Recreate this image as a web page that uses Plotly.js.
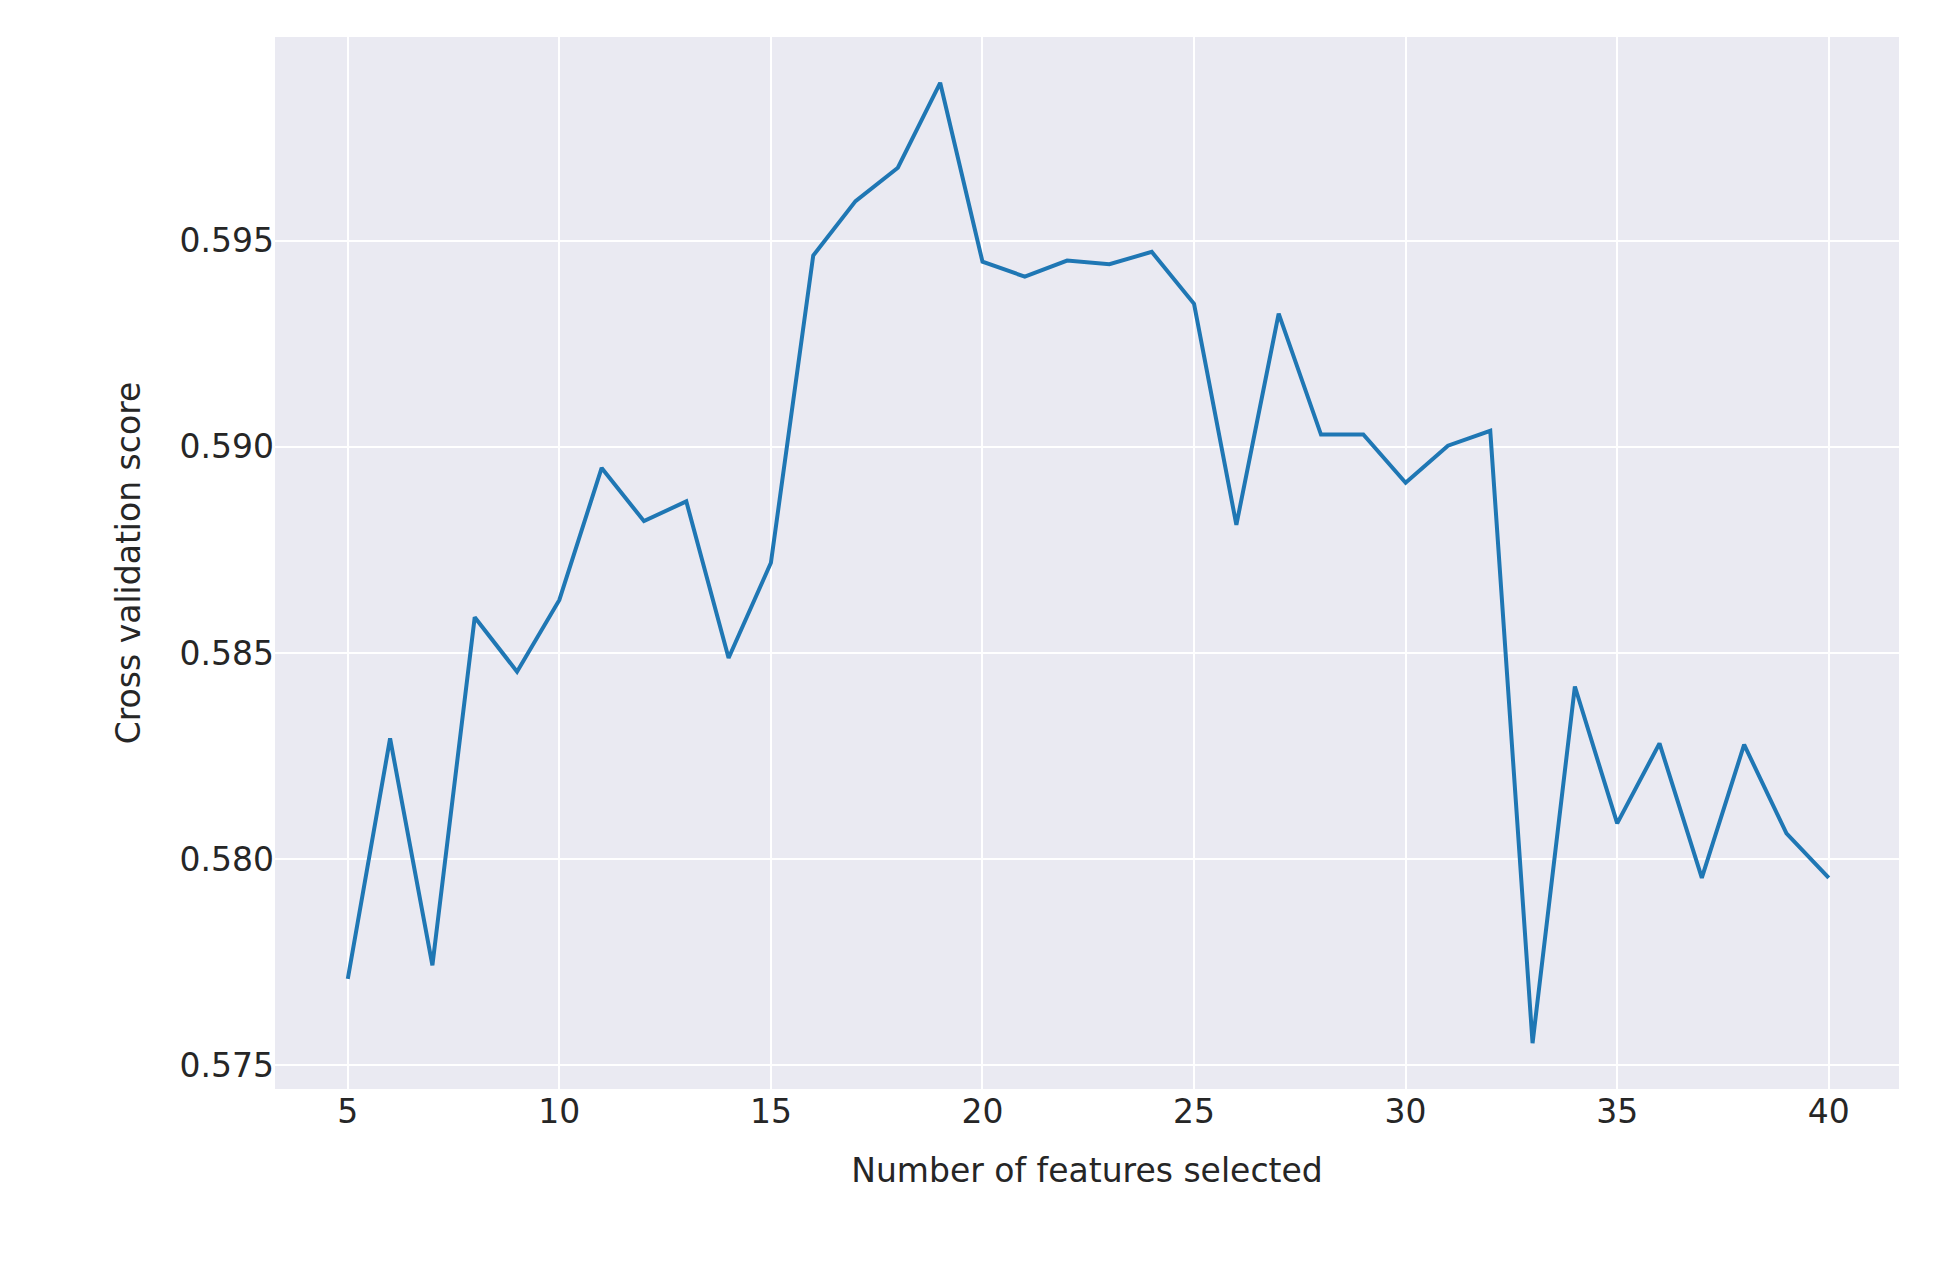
<!DOCTYPE html>
<html>
<head>
<meta charset="utf-8">
<script src="https://cdn.plot.ly/plotly-3.0.1.min.js"></script>
<style>html,body{margin:0;padding:0;background:#fff;}</style>
</head>
<body>
<div id="chart" style="width:1936px;height:1274px;"></div>
<script>
// Cross validation score vs. number of selected features
const nFeatures = [5,6,7,8,9,10,11,12,13,14,15,16,17,18,19,20,21,22,23,24,25,26,27,28,29,30,31,32,33,34,35,36,37,38,39,40];
const cvScores = [
    0.57710, 0.58293, 0.57743, 0.58587, 0.58455, 0.58629, 0.58949, 0.58820, 0.58868, 0.58488,
    0.58719, 0.59464, 0.59596, 0.59677, 0.59883, 0.59449, 0.59413, 0.59452, 0.59443, 0.59473,
    0.59347, 0.58811, 0.59323, 0.59030, 0.59030, 0.58913, 0.59003, 0.59039, 0.57554, 0.58419,
    0.58087, 0.58281, 0.57955, 0.58278, 0.58063, 0.57955
];
const xTicks = [5,10,15,20,25,30,35,40];
const yTicks = [0.575,0.580,0.585,0.590,0.595];

const trace = {
    x: nFeatures,
    y: cvScores,
    mode: 'lines',
    type: 'scatter',
    line: { color: '#1f77b4', width: 4 },
    hoverinfo: 'skip'
};

const axisFont = { family: 'DejaVu Sans', size: 33, color: '#262626' };

const layout = {
    width: 1936,
    height: 1274,
    paper_bgcolor: '#ffffff',
    plot_bgcolor: '#EAEAF2',
    showlegend: false,
    margin: { l: 275, r: 37, t: 37, b: 185 },
    xaxis: {
        range: [3.28, 41.66],
        tickvals: xTicks,
        ticktext: xTicks.map(String),
        gridcolor: '#ffffff',
        gridwidth: 2,
        zeroline: false,
        showline: false,
        ticks: '',
        tickfont: axisFont,
        title: { text: 'Number of features selected', font: axisFont, standoff: 28 }
    },
    yaxis: {
        range: [0.57443, 0.59994],
        tickvals: yTicks,
        ticktext: yTicks.map(v => v.toFixed(3)),
        gridcolor: '#ffffff',
        gridwidth: 2,
        zeroline: false,
        showline: false,
        ticks: '',
        tickfont: axisFont,
        title: { text: 'Cross validation score', font: axisFont, standoff: 28 }
    }
};

Plotly.newPlot('chart', [trace], layout, { staticPlot: true });
</script>
</body>
</html>
